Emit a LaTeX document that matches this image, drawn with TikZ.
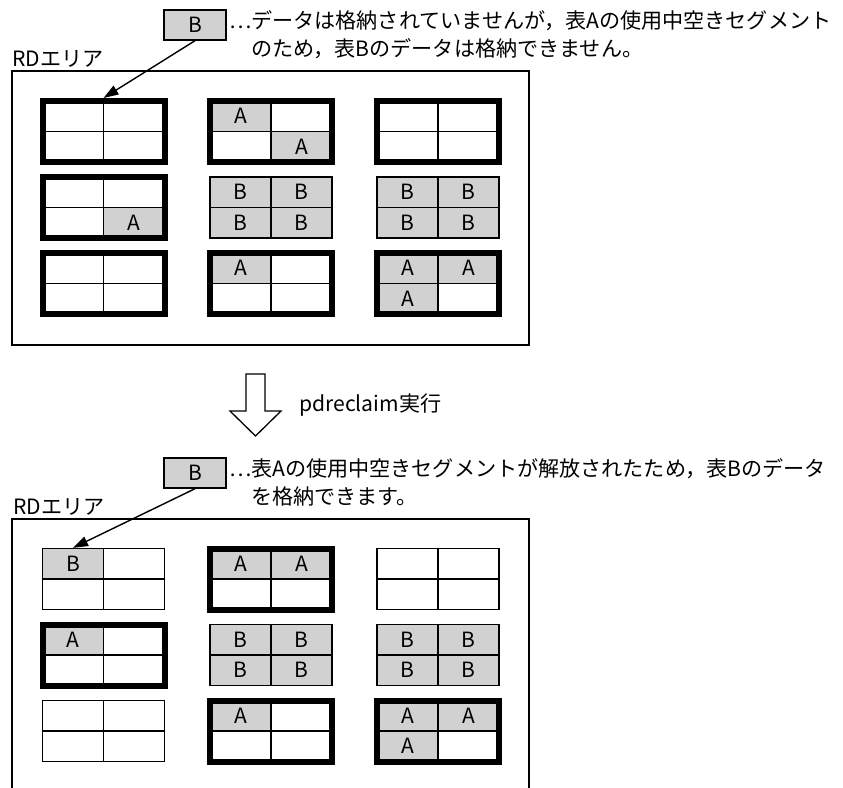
\documentclass[tikz,border=0pt]{standalone}
\usepackage{fontspec}
\setmainfont{Noto Sans CJK JP}
\usetikzlibrary{arrows.meta,positioning}
\definecolor{cellgray}{gray}{0.82}

\tikzset{
  cell/.style={draw, line width=1.3pt, minimum width=61pt, minimum height=30.5pt, inner sep=0pt, font=\fontsize{21}{21}\selectfont},
  heavy/.style={draw, line width=6pt, minimum width=122pt, minimum height=61pt, inner sep=0pt},
  light/.style={draw, line width=1.4pt, minimum width=122pt, minimum height=61pt, inner sep=0pt},
  databox/.style={draw, line width=1.4pt, fill=cellgray, minimum width=62pt, minimum height=30pt, inner sep=0pt, font=\fontsize{21}{21}\selectfont},
  note/.style={align=left, inner sep=0pt, font=\fontsize{21.1}{28}\selectfont},
  arealbl/.style={inner sep=0pt, font=\fontsize{21.1}{21.1}\selectfont},
  pointer/.style={-{Triangle[length=15pt,width=10pt]}, line width=1.4pt}
}

% full width leader dots
\newcommand{\lead}{\makebox[1em][c]{…}}

% one cell of a segment: name, position, label (empty = unused)
\newcommand{\segcell}[3]{%
  \if\relax\detokenize{#3}\relax
    \node[cell] (#1) at (#2) {};%
  \else
    \node[cell, fill=cellgray] (#1) at (#2) {#3};%
  \fi}

% segment: name, x, y, frame, upper left, upper right, lower left, lower right
\newcommand{\segblock}[8]{%
  \segcell{#1a}{{#2-30.5},{#3-15.25}}{#5}
  \segcell{#1b}{{#2+30.5},{#3-15.25}}{#6}
  \segcell{#1c}{{#2-30.5},{#3+15.25}}{#7}
  \segcell{#1d}{{#2+30.5},{#3+15.25}}{#8}
  \node[#4] (#1) at (#2,#3) {};}

\begin{document}
\begin{tikzpicture}[x=1pt, y=-1pt]
\useasboundingbox (0,0) rectangle (843,787);

% before pdreclaim
\node[databox] (dataA) at (195,25) {B};
\node[note, anchor=north west] (noteA) at (230,10) {\lead データは格納されていませんが，表Aの使用中空きセグメント\\\hspace*{1em}のため，表Bのデータは格納できません。};
\node[draw, line width=1.4pt, minimum width=517pt, minimum height=274pt, inner sep=0pt] (areaA) at (270.5,208) {};
\node[arealbl, above right=3pt and 1pt of areaA.north west, anchor=south west] (lblA) {RDエリア};

\segblock{t11}{103.5}{131.5}{heavy}{}{}{}{}
\segblock{t12}{271}{131.5}{heavy}{A}{}{}{A}
\segblock{t13}{438}{131.5}{heavy}{}{}{}{}
\segblock{t21}{103.5}{207.5}{heavy}{}{}{}{A}
\segblock{t22}{271}{207.5}{light}{B}{B}{B}{B}
\segblock{t23}{438}{207.5}{light}{B}{B}{B}{B}
\segblock{t31}{103.5}{283.5}{heavy}{}{}{}{}
\segblock{t32}{271}{283.5}{heavy}{A}{}{}{}
\segblock{t33}{438}{283.5}{heavy}{A}{A}{A}{}

\draw[pointer] (dataA.south) -- (t11.north);

% pdreclaim
\draw[line width=1.3pt, line join=miter] (246,374) -- (265,374) -- (265,411) -- (281,411) -- (255.5,436) -- (230,411) -- (246,411) -- cycle;
\node[arealbl, anchor=west] (runlbl) at (299,405) {pdreclaim実行};

% after pdreclaim
\node[databox] (dataB) at (195,473) {B};
\node[note, anchor=north west] (noteB) at (230,458) {\lead 表Aの使用中空きセグメントが解放されたため，表Bのデータ\\\hspace*{1em}を格納できます。};
\coordinate (areaBnw) at (12,519);
\draw[line width=1.4pt] (12,790) -- (areaBnw) -- (529,519) -- (529,790);
\node[arealbl, above right=3pt and 1pt of areaBnw, anchor=south west] (lblB) {RDエリア};

\segblock{b11}{103.5}{579}{light}{B}{}{}{}
\segblock{b12}{271}{579}{heavy}{A}{A}{}{}
\segblock{b13}{438}{579}{light}{}{}{}{}
\segblock{b21}{103.5}{655}{heavy}{A}{}{}{}
\segblock{b22}{271}{655}{light}{B}{B}{B}{B}
\segblock{b23}{438}{655}{light}{B}{B}{B}{B}
\segblock{b31}{103.5}{731}{light}{}{}{}{}
\segblock{b32}{271}{731}{heavy}{A}{}{}{}
\segblock{b33}{438}{731}{heavy}{A}{A}{A}{}

\draw[pointer] (dataB.south) -- (b11a.north);
\end{tikzpicture}
\end{document}
